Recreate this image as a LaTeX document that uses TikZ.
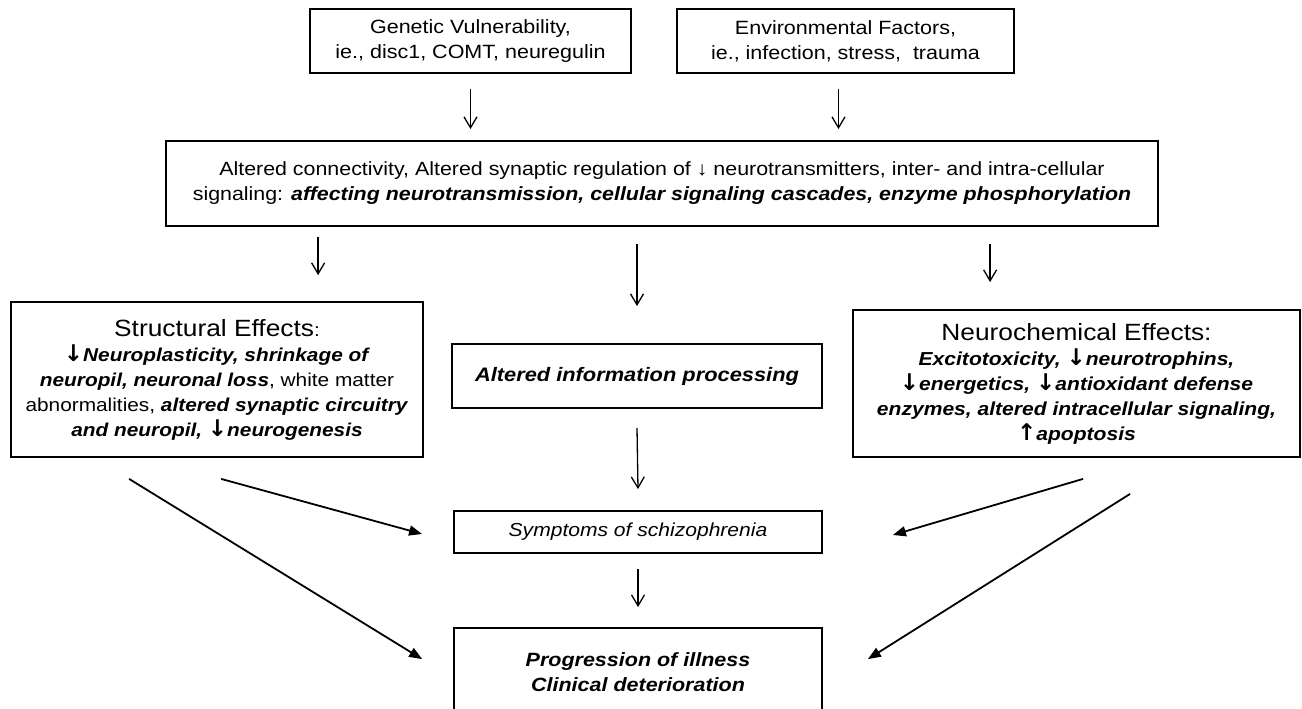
\documentclass[tikz,border=0pt]{standalone}
\usepackage{fontspec}
\setmainfont[FakeStretch=1.12]{Liberation Sans}
\newfontfamily\arrowfont{DejaVu Sans}
\usetikzlibrary{arrows.meta,calc}
\newcommand{\bfit}[1]{\textbf{\textit{#1}}}
\newcommand{\fsz}[2]{\fontsize{#1pt}{#2pt}\selectfont}
\newcommand{\dnarr}{{\arrowfont\fontsize{23pt}{23pt}\selectfont ↓}}
\newcommand{\uparr}{{\arrowfont\fontsize{23pt}{23pt}\selectfont ↑}}
\tikzset{
  box/.style={draw, line width=1.8pt, align=center, inner sep=0pt},
  varrow/.style={-{Straight Barb[length=11pt,width=13pt]}, line width=1.3pt},
  darrow/.style={-{Triangle[length=13pt,width=10pt]}, line width=1.8pt},
}
\begin{document}
\begin{tikzpicture}[x=1pt,y=-1pt]
\useasboundingbox (0,0) rectangle (1302,709);
\clip (0,0) rectangle (1302,709);

\node[box, minimum width=321pt, minimum height=64pt, font=\fsz{19.2}{25}] (gen) at (470.5,41)
  {Genetic Vulnerability,\\ ie., disc1, COMT, neuregulin};
\node[box, minimum width=337pt, minimum height=64pt, font=\fsz{19.2}{25}] (env) at (845.5,41)
  {Environmental Factors,\\ ie., infection, stress,\ \ trauma};

\node[box, minimum width=992pt, minimum height=85pt, font=\fsz{19.1}{25}] (big) at (662,183.5)
  {Altered connectivity, Altered synaptic regulation of ↓ neurotransmitters, inter- and intra-cellular\\
   signaling: \bfit{affecting neurotransmission, cellular signaling cascades, enzyme phosphorylation}};

\node[box, minimum width=412pt, minimum height=155pt, font=\fsz{18.6}{25}] (struct) at (217,379.5)
  {{\fsz{23.5}{26}Structural Effects}:\\
   \bfit{\dnarr Neuroplasticity, shrinkage of}\\
   \bfit{neuropil, neuronal loss}, white matter\\
   abnormalities, \bfit{altered synaptic circuitry}\\
   \bfit{and neuropil, \dnarr neurogenesis}};

\node[box, minimum width=370pt, minimum height=64pt, font=\fsz{19.5}{25}] (info) at (637,376)
  {\bfit{Altered information processing}};

\node[box, minimum width=447pt, minimum height=147pt, font=\fsz{18.8}{25}] (neuro) at (1076.5,383.5)
  {{\fsz{23.5}{26}Neurochemical Effects:}\\
   \bfit{Excitotoxicity, \dnarr neurotrophins,}\\
   \bfit{\dnarr energetics, \dnarr antioxidant defense}\\
   \bfit{enzymes, altered intracellular signaling,}\\
   \bfit{\uparr apoptosis}};

\node[box, minimum width=368pt, minimum height=42pt, font=\fsz{18.8}{25}] (symp) at (638,532)
  {\textit{Symptoms of schizophrenia}};

\node[box, minimum width=368pt, minimum height=88pt, font=\fsz{19.2}{25}] (prog) at (638,672)
  {\bfit{Progression of illness}\\ \bfit{Clinical deterioration}};

% vertical arrows
\draw[varrow] ([yshift=-15pt]gen.south) -- ([yshift=11pt]big.north -| gen.south);
\draw[varrow] ($(env.south)+(-7,15)$) -- ($(big.north -| env.south)+(-7,-11)$);
\draw[varrow] ($(big.south west)+(153,10)$) -- ($(struct.north west)+(308,-26)$);
\draw[varrow] ([yshift=-17pt]big.south -| info.north) -- ([yshift=37pt]info.north);
\draw[varrow] ($(big.south west)+(825,17)$) -- ($(neuro.north west)+(138,-27)$);
\draw[varrow] ([yshift=-19pt]info.south) -- ([yshift=21pt]symp.north);
\draw[varrow] ([yshift=-15pt]symp.south) -- ([yshift=20pt]prog.north);

% diagonal arrows
\draw[darrow] ($(struct.south west)+(119,21)$) -- ($(prog.north west)+(-31,32)$);
\draw[darrow] ($(struct.south west)+(211,21)$) -- ($(symp.west)+(-31,2)$);
\draw[darrow] ($(neuro.south west)+(231,21)$) -- ($(symp.east)+(70,3)$);
\draw[darrow] ($(neuro.south west)+(278,36)$) -- ($(prog.north east)+(45,32)$);
\end{tikzpicture}
\end{document}
